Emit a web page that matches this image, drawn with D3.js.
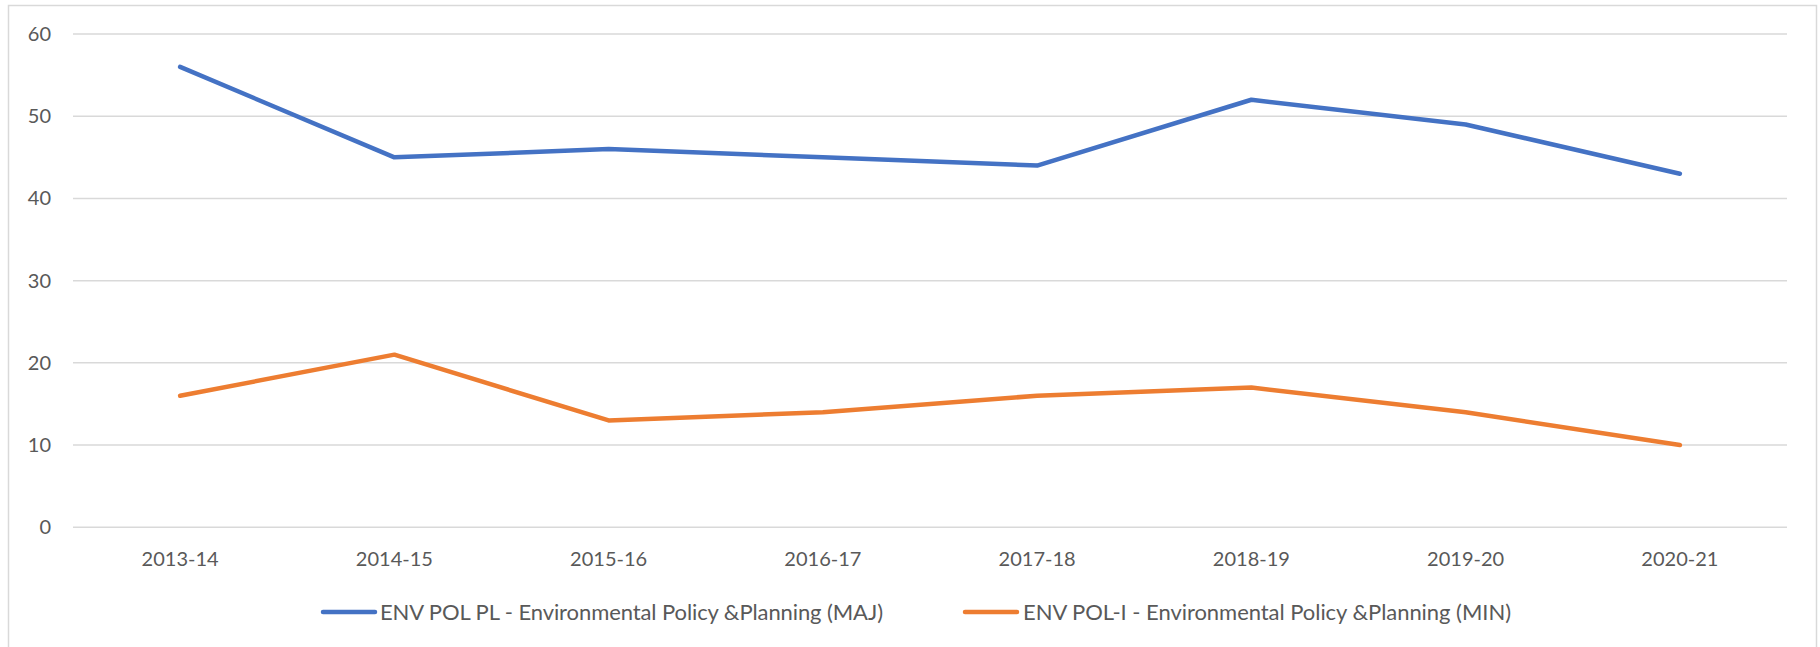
<!DOCTYPE html>
<html>
<head>
<meta charset="utf-8">
<script src="https://cdn.jsdelivr.net/npm/d3@7"></script>
<style>
  body { margin: 0; background: #fff; }
  svg { display: block; }
  text { font-family: Lato, "Open Sans", sans-serif; fill: #595959; }
</style>
</head>
<body>
<svg id="chart" width="1820" height="647"></svg>
<script>
const years = ['2013-14', '2014-15', '2015-16', '2016-17', '2017-18', '2018-19', '2019-20', '2020-21'];
const majValues = [56, 45, 46, 45, 44, 52, 49, 43];
const minValues = [16, 21, 13, 14, 16, 17, 14, 10];
const yTicks = [0, 10, 20, 30, 40, 50, 60];
const seriesNames = [
  'ENV POL PL - Environmental Policy &Planning (MAJ)',
  'ENV POL-I - Environmental Policy &Planning (MIN)'
];
const seriesColours = ['#4472C4', '#ED7D31'];

const svg = d3.select('#chart');

// outer chart border
svg.append('rect')
  .attr('x', 8.5).attr('y', 5.5)
  .attr('width', 1808).attr('height', 660)
  .attr('fill', 'none')
  .attr('stroke', '#d9d9d9')
  .attr('stroke-width', 1.5);

const plot = { left: 73, right: 1787, top: 34, bottom: 527.3 };

const x = d3.scaleBand()
  .domain(years)
  .range([plot.left, plot.right]);

const y = d3.scaleLinear()
  .domain([0, 60])
  .range([plot.bottom, plot.top]);

// gridlines
svg.append('g')
  .selectAll('line')
  .data(yTicks)
  .join('line')
  .attr('x1', plot.left)
  .attr('x2', plot.right)
  .attr('y1', d => y(d))
  .attr('y2', d => y(d))
  .attr('stroke', '#d9d9d9')
  .attr('stroke-width', 1.5);

// y labels
svg.append('g')
  .selectAll('text')
  .data(yTicks)
  .join('text')
  .attr('x', 51)
  .attr('y', d => y(d))
  .attr('dy', '0.35em')
  .attr('text-anchor', 'end')
  .attr('font-size', 20)
  .text(d => d);

// x labels
svg.append('g')
  .selectAll('text')
  .data(years)
  .join('text')
  .attr('x', d => x(d) + x.bandwidth() / 2)
  .attr('y', 559)
  .attr('dy', '0.35em')
  .attr('text-anchor', 'middle')
  .attr('font-size', 20)
  .text(d => d);

const line = d3.line()
  .x((d, i) => x(years[i]) + x.bandwidth() / 2)
  .y(d => y(d));

[majValues, minValues].forEach((vals, i) => {
  svg.append('path')
    .datum(vals)
    .attr('d', line)
    .attr('fill', 'none')
    .attr('stroke', seriesColours[i])
    .attr('stroke-width', 4.5)
    .attr('stroke-linecap', 'round')
    .attr('stroke-linejoin', 'round');
});

// legend
const legendY = 612;
const legendItems = [
  { x1: 323, x2: 375, tx: 380, len: 503 },
  { x1: 965, x2: 1017, tx: 1023, len: 488 }
];
legendItems.forEach((it, i) => {
  svg.append('line')
    .attr('x1', it.x1).attr('x2', it.x2)
    .attr('y1', legendY).attr('y2', legendY)
    .attr('stroke', seriesColours[i])
    .attr('stroke-width', 4.5)
    .attr('stroke-linecap', 'round');
  svg.append('text')
    .attr('x', it.tx)
    .attr('y', legendY)
    .attr('dy', '0.35em')
    .attr('font-size', 22)
    .attr('textLength', it.len)
    .attr('lengthAdjust', 'spacing')
    .text(seriesNames[i]);
});
</script>
</body>
</html>
